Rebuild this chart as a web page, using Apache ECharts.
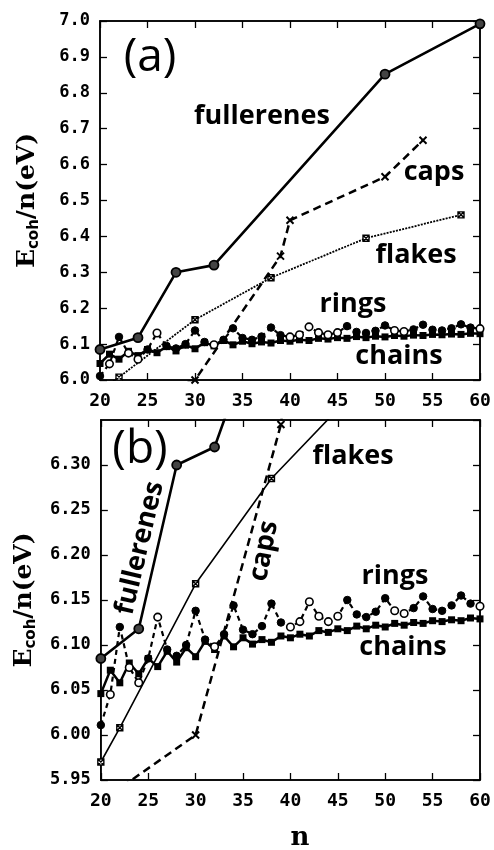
<!DOCTYPE html>
<html>
<head>
<meta charset="utf-8">
<script src="https://cdn.jsdelivr.net/npm/echarts@6/dist/echarts.min.js"></script>
<style>
  html, body { margin: 0; background: #fff; }
  #chart { width: 494px; height: 850px; }
</style>
</head>
<body>
<div id="chart"></div>
<script>
// values (E_coh/n in eV against cluster size n)
const fullN = [20, 24, 28, 32, 50, 60];
const fullE = [6.085, 6.118, 6.300, 6.320, 6.852, 6.992];

const capsN = [20, 30, 39, 40, 50, 54];
const capsE = [5.926, 6.000, 6.345, 6.445, 6.566, 6.668];

const flakeN = [20, 22, 30, 38, 48, 58];
const flakeE = [5.970, 6.008, 6.168, 6.285, 6.395, 6.460];

const chainN = [20, 21, 22, 23, 24, 25, 26, 27, 28, 29, 30, 31, 32, 33, 34, 35, 36, 37, 38, 39, 40,
                41, 42, 43, 44, 45, 46, 47, 48, 49, 50, 51, 52, 53, 54, 55, 56, 57, 58, 59, 60];
const chainE = [6.046, 6.072, 6.058, 6.080, 6.068, 6.085, 6.076, 6.093, 6.081, 6.097, 6.087,
                6.104, 6.095, 6.110, 6.098, 6.108, 6.101, 6.106, 6.103, 6.110, 6.108,
                6.112, 6.110, 6.116, 6.114, 6.118, 6.116, 6.121, 6.118, 6.122, 6.120,
                6.124, 6.122, 6.125, 6.124, 6.127, 6.126, 6.128, 6.127, 6.130, 6.129];

const ringN = chainN;
const ringE = [6.011, 6.045, 6.120, 6.075, 6.058, 6.085, 6.131, 6.095, 6.088, 6.100, 6.138,
               6.106, 6.098, 6.112, 6.144, 6.117, 6.112, 6.121, 6.146, 6.125, 6.120,
               6.126, 6.148, 6.132, 6.126, 6.132, 6.150, 6.134, 6.131, 6.137, 6.152,
               6.138, 6.135, 6.141, 6.154, 6.140, 6.138, 6.144, 6.155, 6.146, 6.143];
// 1 = open circle, 0 = filled circle
const ringOpen = [0, 1, 0, 1, 1, 0, 1, 0, 0, 0, 0,
                  0, 1, 0, 0, 0, 0, 0, 0, 0, 1,
                  1, 1, 1, 1, 1, 0, 0, 0, 0, 0,
                  1, 1, 0, 0, 0, 0, 0, 0, 0, 1];

const xTicks = [20, 25, 30, 35, 40, 45, 50, 55, 60];

const chart = echarts.init(document.getElementById('chart'));
const tickFont = 'DejaVu Sans Mono';
const labelFont = 'bold 27px "Open Sans"';

function pairs(xs, ys) {
  return xs.map((x, i) => [x, ys[i]]);
}

function seriesFor(k, dottedFlakes) {
  const ax = { xAxisIndex: 2 * k, yAxisIndex: 2 * k, clip: true, showAllSymbol: true, animation: false };
  return [
    Object.assign({
      name: 'chains', type: 'line', data: pairs(chainN, chainE),
      symbol: 'rect', symbolSize: 7,
      lineStyle: { color: '#000', width: 2.5 },
      itemStyle: { color: '#000' }
    }, ax),
    Object.assign({
      name: 'rings', type: 'line',
      data: ringN.map((n, i) => ({
        value: [n, ringE[i]],
        itemStyle: ringOpen[i]
          ? { color: '#fff', borderColor: '#000', borderWidth: 1.6 }
          : { color: '#000', borderColor: '#000', borderWidth: 1 }
      })),
      symbol: 'circle', symbolSize: 7.5,
      lineStyle: { color: '#000', width: 2.2, type: [5, 4] }
    }, ax),
    Object.assign({
      name: 'flakes', type: 'line', data: pairs(flakeN, flakeE),
      symbol: 'path://M0,0L10,0L10,10L0,10ZM0,0L10,10M10,0L0,10', symbolSize: 6,
      lineStyle: { color: '#000', width: dottedFlakes ? 1.8 : 1.6, type: dottedFlakes ? [2, 1.2] : 'solid' },
      itemStyle: { color: '#fff', borderColor: '#000', borderWidth: 1.4 }
    }, ax),
    Object.assign({
      name: 'caps', type: 'line', data: pairs(capsN, capsE),
      symbol: 'path://M0,0L10,10M10,0L0,10', symbolSize: 7,
      lineStyle: { color: '#000', width: 2.5, type: [8, 5] },
      itemStyle: { color: '#000', borderColor: '#000', borderWidth: 2 }
    }, ax),
    Object.assign({
      name: 'fullerenes', type: 'line', data: pairs(fullN, fullE),
      symbol: 'circle', symbolSize: 9,
      lineStyle: { color: '#000', width: 2.6 },
      itemStyle: { color: '#444', borderColor: '#000', borderWidth: 1.8 }
    }, ax)
  ];
}

const yName = '{e|E}{s|coh}{e|/n(eV)}';
const yNameStyle = {
  rich: {
    e: { fontFamily: 'DejaVu Serif', fontWeight: 'bold', fontSize: 25, color: '#000', lineHeight: 27, verticalAlign: 'top' },
    s: { fontFamily: 'DejaVu Sans', fontWeight: 'bold', fontSize: 15, color: '#000', lineHeight: 15, padding: [16, 0, 0, 0], verticalAlign: 'bottom' }
  }
};

function xAx(grid, bottom) {
  return {
    type: 'value', gridIndex: grid, min: 20, max: 60, interval: 5,
    position: bottom ? 'bottom' : 'top',
    axisLine: { show: true, onZero: false, lineStyle: { color: '#000', width: 1.5 } },
    axisTick: { show: true, inside: true, length: 7, lineStyle: { color: '#000', width: 1.3 } },
    axisLabel: bottom
      ? { show: true, margin: 12, color: '#000', fontFamily: tickFont, fontWeight: 'bold', fontSize: 18,
          formatter: v => xTicks.includes(v) ? String(v) : '' }
      : { show: false },
    splitLine: { show: false }
  };
}

function yAx(grid, left, min, max, interval, digits) {
  return {
    type: 'value', gridIndex: grid, min: min, max: max, interval: interval,
    position: left ? 'left' : 'right',
    axisLine: { show: true, onZero: false, lineStyle: { color: '#000', width: 1.5 } },
    axisTick: { show: true, inside: true, length: 7, lineStyle: { color: '#000', width: 1.3 } },
    axisLabel: left
      ? { show: true, margin: 10, color: '#000', fontFamily: tickFont, fontWeight: 'bold', fontSize: 17,
          showMaxLabel: digits === 1, formatter: v => v.toFixed(digits) }
      : { show: false },
    splitLine: { show: false },
    name: left ? yName : '',
    nameLocation: 'middle', nameRotate: 90, nameGap: 58,
    nameTextStyle: yNameStyle
  };
}

function txt(x, y, text, rot, font) {
  return {
    type: 'text', x: x, y: y, rotation: rot || 0, z: 50,
    style: { text: text, font: font || labelFont, fill: '#000', align: 'center', verticalAlign: 'middle' }
  };
}

const option = {
  backgroundColor: '#fff',
  animation: false,
  grid: [
    { left: 100, right: 14, top: 21, height: 359, show: true, borderColor: '#000', borderWidth: 1.5 },
    { left: 100, right: 14, top: 420, height: 360, show: true, borderColor: '#000', borderWidth: 1.5 }
  ],
  xAxis: [xAx(0, true), xAx(0, false), xAx(1, true), xAx(1, false)],
  yAxis: [
    yAx(0, true, 6.0, 7.0, 0.1, 1), yAx(0, false, 6.0, 7.0, 0.1, 1),
    yAx(1, true, 5.95, 6.35, 0.05, 2), yAx(1, false, 5.95, 6.35, 0.05, 2)
  ],
  series: seriesFor(0, true).concat(seriesFor(1, false)),
  graphic: [
    txt(150, 58, '(a)', 0, '46px "Open Sans"'),
    txt(140, 450, '(b)', 0, '46px "Open Sans"'),
    txt(262, 116, 'fullerenes'),
    txt(434, 172, 'caps'),
    txt(416, 255, 'flakes'),
    txt(353, 304, 'rings'),
    txt(399, 356, 'chains'),
    txt(353, 456, 'flakes'),
    txt(395, 576, 'rings'),
    txt(403, 647, 'chains'),
    txt(140, 548, 'fullerenes', 1.34),
    txt(264, 551, 'caps', 1.38),
    txt(300, 838, 'n', 0, 'bold 26px "DejaVu Serif"')
  ]
};

chart.setOption(option);
</script>
</body>
</html>
